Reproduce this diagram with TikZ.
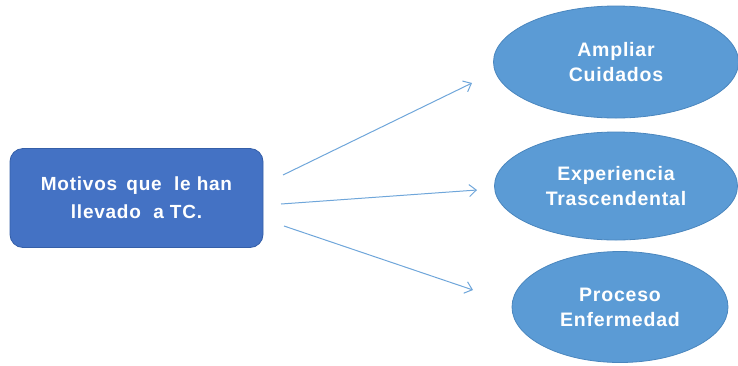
\documentclass[tikz,border=0pt]{standalone}
\usepackage{fontspec}
\setmainfont{Liberation Sans}
\newfontfamily\boxfont[LetterSpace=4]{Liberation Sans}
\usetikzlibrary{shapes.geometric,arrows.meta}
\definecolor{rectfill}{HTML}{4472C4}
\definecolor{rectdraw}{HTML}{355FA8}
\definecolor{ellfill}{HTML}{5B9BD5}
\definecolor{elldraw}{HTML}{4A86BE}
\definecolor{arrcol}{HTML}{6FA6DA}
\tikzset{
  mainbox/.style={draw=rectdraw, line width=0.8pt, fill=rectfill, rounded corners=13pt,
    minimum width=253pt, minimum height=99pt, inner sep=0pt,
    text=white, font=\boxfont\fontsize{19}{28}\selectfont\bfseries, align=center},
  oval/.style={ellipse, draw=elldraw, line width=0.8pt, fill=ellfill, inner sep=0pt,
    text=white, font=\boxfont\fontsize{19.5}{25}\selectfont\bfseries, align=center},
  conn/.style={draw=arrcol, line width=1pt, -{Straight Barb[length=7pt,width=12pt]}}
}
\begin{document}
\begin{tikzpicture}[x=1pt,y=-1pt]
\useasboundingbox (0,0) rectangle (738,365);
\node[mainbox] (src) at (136.5,198) {Motivos\, que\,\, le han\\llevado\,\, a TC.};
\node[oval, minimum width=245pt, minimum height=112pt] (e1) at (616,62) {Ampliar\\Cuidados};
\node[oval, minimum width=243pt, minimum height=108pt] (e2) at (616,186) {Experiencia\\Trascendental};
\node[oval, minimum width=216pt, minimum height=111pt] (e3) at (620,307) {Proceso\\Enfermedad};
\coordinate (a1s) at (283,175);
\coordinate (a1e) at (472,83);
\coordinate (a2s) at (281,204);
\coordinate (a2e) at (477,190);
\coordinate (a3s) at (284,226);
\coordinate (a3e) at (473,290);
\draw[conn] (a1s) -- (a1e);
\draw[conn] (a2s) -- (a2e);
\draw[conn] (a3s) -- (a3e);
\end{tikzpicture}
\end{document}
